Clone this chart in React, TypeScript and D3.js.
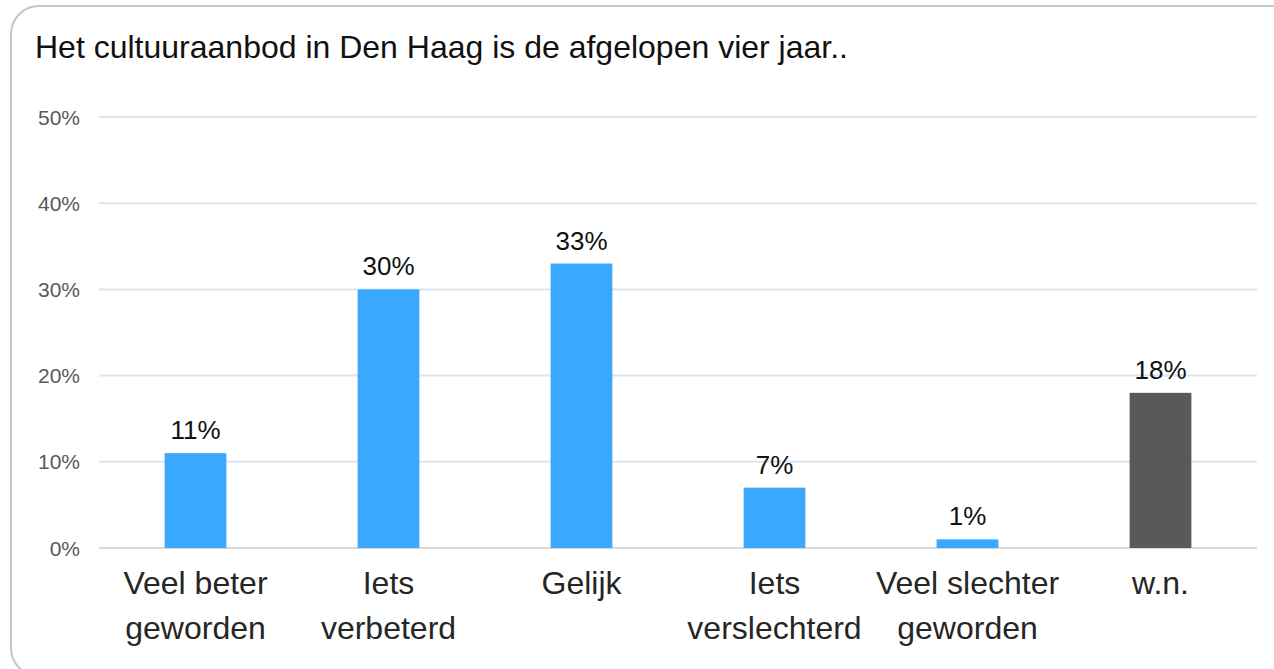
import React, { useEffect, useRef } from 'react';
import * as d3 from 'd3';

const categories = [
  ['Veel beter', 'geworden'],
  ['Iets', 'verbeterd'],
  ['Gelijk'],
  ['Iets', 'verslechterd'],
  ['Veel slechter', 'geworden'],
  ['w.n.'],
];
const values = [11, 30, 33, 7, 1, 18];
const barColors = ['#3aa8ff', '#3aa8ff', '#3aa8ff', '#3aa8ff', '#3aa8ff', '#595959'];
const yTicks = [0, 10, 20, 30, 40, 50];
const title = 'Het cultuuraanbod in Den Haag is de afgelopen vier jaar..';

export default function App() {
  const svgRef = useRef<SVGSVGElement>(null);
  const width = 1274;
  const height = 669;

  useEffect(() => {
    const svg = d3.select(svgRef.current);
    svg.selectAll('*').remove();
    const font = 'Liberation Sans, Arial, sans-serif';

    svg
      .append('rect')
      .attr('x', 11)
      .attr('y', 6)
      .attr('width', 1300)
      .attr('height', 670)
      .attr('rx', 28)
      .attr('fill', '#fff')
      .attr('stroke', '#c6c6c6')
      .attr('stroke-width', 2);

    svg
      .append('text')
      .attr('x', 35)
      .attr('y', 58)
      .attr('font-family', font)
      .attr('font-size', 32)
      .attr('fill', '#111')
      .text(title);

    const x = d3
      .scaleBand()
      .domain(categories.map((_, i) => String(i)))
      .range([99, 1257])
      .paddingInner(0.68)
      .paddingOuter(0.34);
    const y = d3.scaleLinear().domain([0, 50]).range([548, 117]);

    const grid = svg.append('g');
    grid
      .selectAll('line')
      .data(yTicks)
      .join('line')
      .attr('x1', 99)
      .attr('x2', 1257)
      .attr('y1', (d) => y(d))
      .attr('y2', (d) => y(d))
      .attr('stroke', (d) => (d === 0 ? '#d9d9d9' : '#dce6f2'))
      .attr('stroke-width', 2);

    grid
      .selectAll('text')
      .data(yTicks)
      .join('text')
      .attr('x', 80)
      .attr('y', (d) => y(d) + 7.5)
      .attr('text-anchor', 'end')
      .attr('font-family', font)
      .attr('font-size', 21)
      .attr('fill', '#595959')
      .text((d) => `${d}%`);

    const bars = svg.append('g');
    bars
      .selectAll('rect')
      .data(values)
      .join('rect')
      .attr('x', (_, i) => x(String(i))!)
      .attr('width', x.bandwidth())
      .attr('y', (d) => y(d))
      .attr('height', (d) => y(0) - y(d))
      .attr('fill', (_, i) => barColors[i]);

    bars
      .selectAll('text')
      .data(values)
      .join('text')
      .attr('x', (_, i) => x(String(i))! + x.bandwidth() / 2)
      .attr('y', (d) => y(d) - 14)
      .attr('text-anchor', 'middle')
      .attr('font-family', font)
      .attr('font-size', 26)
      .attr('fill', '#111')
      .text((d) => `${d}%`);

    const labels = svg.append('g');
    categories.forEach((lines, i) => {
      const t = labels
        .append('text')
        .attr('x', x(String(i))! + x.bandwidth() / 2)
        .attr('y', 594)
        .attr('text-anchor', 'middle')
        .attr('font-family', font)
        .attr('font-size', 32)
        .attr('fill', '#262626');
      lines.forEach((l, j) => {
        t.append('tspan')
          .attr('x', x(String(i))! + x.bandwidth() / 2)
          .attr('dy', j === 0 ? 0 : 45)
          .text(l);
      });
    });
  }, []);

  return (
    <svg
      ref={svgRef}
      width={width}
      height={height}
      style={{ position: 'absolute', left: 0, top: 0, background: '#fff' }}
    ></svg>
  );
}
